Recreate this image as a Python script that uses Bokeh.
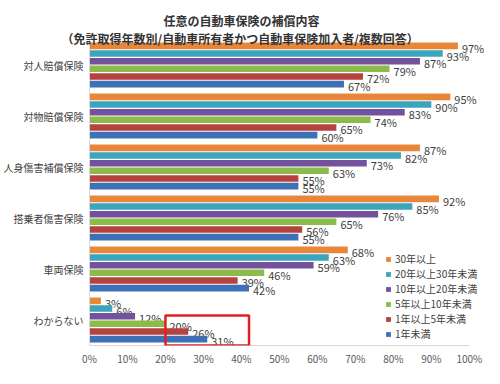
from bokeh.plotting import figure
from bokeh.models import (Range1d, FixedTicker, PrintfTickFormatter, Legend, LegendItem,
                          Title, BoxAnnotation, ColumnDataSource)
from bokeh.transform import dodge
from bokeh.core.properties import value
from bokeh.embed import file_html
from bokeh.resources import INLINE

title1 = "任意の自動車保険の補償内容"
title2 = "（免許取得年数別/自動車所有者かつ自動車保険加入者/複数回答）"

categories = ["対人賠償保険", "対物賠償保険", "人身傷害補償保険", "搭乗者傷害保険", "車両保険", "わからない"]
series = ["30年以上", "20年以上30年未満", "10年以上20年未満", "5年以上10年未満", "1年以上5年未満", "1年未満"]
colors = ["#E8873A", "#3BA5BD", "#73519C", "#8CBA4B", "#B6423F", "#3E70B5"]

v_30plus = [97, 95, 87, 92, 68, 3]
v_20to30 = [93, 90, 82, 85, 63, 6]
v_10to20 = [87, 83, 73, 76, 59, 12]
v_5to10 = [79, 74, 63, 65, 46, 20]
v_1to5 = [72, 65, 55, 56, 39, 26]
v_under1 = [67, 60, 55, 55, 42, 31]
values = [v_30plus, v_20to30, v_10to20, v_5to10, v_1to5, v_under1]

x_ticks = list(range(0, 101, 10))

FONT = "Noto Sans CJK JP"
n = len(categories)
ypos = [n - 1 - i for i in range(n)]

p = figure(width=484, height=368, output_backend="svg", toolbar_location=None,
           x_range=Range1d(0, 104), y_range=Range1d(-0.5, n - 0.5),
           min_border_left=85, min_border_right=0, min_border_top=39, min_border_bottom=0,
           title=title1)
p.outline_line_color = None
p.xgrid.visible = False
p.ygrid.visible = False
p.background_fill_color = "white"

p.title.text_font = FONT
p.title.text_font_size = "12px"
p.title.text_font_style = "bold"
p.title.text_color = "#333333"
p.title.align = "left"
p.title.offset = 74
p.title.vertical_align = "middle"
p.title.standoff = 12
t2 = Title(text=title2, text_font=FONT, text_font_size="12px", text_font_style="bold",
           text_color="#333333", align="left", offset=-28, standoff=-15)
p.add_layout(t2, "above")

step = 0.15
items = []
for j, (name, col, vals) in enumerate(zip(series, colors, values)):
    src = ColumnDataSource(dict(y=ypos, v=vals, lab=[f"{v}%" for v in vals]))
    off = (2.5 - j) * step
    r = p.hbar(y=dodge("y", off), right="v", left=0, height=0.128, source=src,
               fill_color=col, line_color=None)
    p.text(x="v", y=dodge("y", off), text="lab", source=src, x_offset=4, y_offset=2,
           text_baseline="middle", text_align="left", text_font=value(FONT),
           text_font_size="11px", text_color="#404040")
    items.append(LegendItem(label=name, renderers=[r]))

legend = Legend(items=items, location=(294, 2), padding=2, margin=0, spacing=-1,
                glyph_width=6, glyph_height=6, label_standoff=4, label_height=12,
                label_text_font=FONT, label_text_font_size="10px", label_text_color="#404040",
                background_fill_color="white", background_fill_alpha=1.0, border_line_alpha=0)
p.add_layout(legend)

p.xaxis.ticker = FixedTicker(ticks=x_ticks)
p.xaxis.formatter = PrintfTickFormatter(format="%d%%")
p.xaxis.bounds = (0, 100)
p.xaxis.major_tick_out = 0
p.xaxis.major_tick_in = 0
p.xaxis.minor_tick_out = 0
p.xaxis.minor_tick_in = 0
p.xaxis.axis_line_color = "#D9D9D9"
p.xaxis.major_label_text_font = FONT
p.xaxis.major_label_text_font_size = "10px"
p.xaxis.major_label_text_color = "#595959"
p.xaxis.major_label_standoff = 5

p.yaxis.ticker = FixedTicker(ticks=ypos)
p.yaxis.major_label_overrides = {y: c for y, c in zip(ypos, categories)}
p.yaxis.major_tick_out = 0
p.yaxis.major_tick_in = 0
p.yaxis.minor_tick_out = 0
p.yaxis.minor_tick_in = 0
p.yaxis.axis_line_color = "#D9D9D9"
p.yaxis.major_label_text_font = FONT
p.yaxis.major_label_text_font_size = "10px"
p.yaxis.major_label_text_color = "#404040"
p.yaxis.major_label_standoff = 6

box = BoxAnnotation(left=20, right=42, top=0.09, bottom=-0.5, fill_alpha=0,
                    line_color="#E02020", line_width=2.5, line_alpha=1)
p.add_layout(box)

open("out.html", "w").write(file_html(p, INLINE))
